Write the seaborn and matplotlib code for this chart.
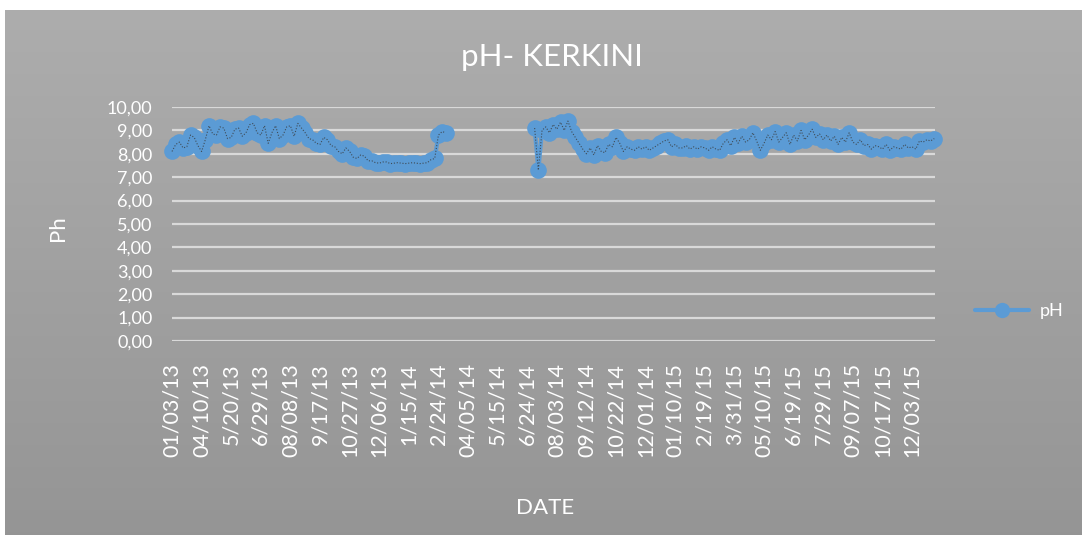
import matplotlib
matplotlib.use('Agg')
import matplotlib.pyplot as plt
from matplotlib.lines import Line2D
import seaborn as sns
import pandas as pd
import numpy as np

# pH readings, sampled every 5 days (day 0 = first category on the axis)
seg1_days = np.arange(0, 375, 5)
seg1_ph = [8.10, 8.40, 8.50, 8.25, 8.30, 8.80, 8.70, 8.35, 8.10, 8.60,
           9.20, 8.85, 8.80, 9.15, 9.10, 8.65, 8.70, 9.05, 9.10, 8.75,
           8.90, 9.25, 9.30, 8.90, 8.80, 9.20, 8.45, 8.90, 9.20, 8.65,
           8.80, 9.15, 9.20, 8.75, 9.30, 9.10, 8.90, 8.65, 8.60, 8.45,
           8.40, 8.70, 8.60, 8.35, 8.30, 8.10, 8.00, 8.25, 8.10, 7.85,
           7.80, 7.95, 7.90, 7.70, 7.70, 7.62, 7.60, 7.65, 7.65, 7.58,
           7.60, 7.62, 7.60, 7.58, 7.60, 7.62, 7.60, 7.58, 7.60, 7.62,
           7.75, 7.80, 8.80, 8.95, 8.90]

seg2_days = np.arange(490, 1035, 5)
seg2_ph = [9.10, 7.30, 9.00, 9.15, 8.90, 9.25, 9.05, 9.35, 9.00, 9.40,
           8.95, 8.70, 8.45, 8.20, 8.00, 8.25, 7.95, 8.35, 8.10, 8.05,
           8.40, 8.30, 8.70, 8.45, 8.10, 8.30, 8.20, 8.15, 8.30, 8.20,
           8.30, 8.15, 8.25, 8.35, 8.45, 8.55, 8.60, 8.30, 8.40, 8.25,
           8.25, 8.35, 8.20, 8.30, 8.20, 8.30, 8.25, 8.15, 8.30, 8.20,
           8.15, 8.45, 8.60, 8.35, 8.70, 8.45, 8.75, 8.50, 8.60, 8.90,
           8.55, 8.15, 8.45, 8.80, 8.60, 8.95, 8.50, 8.70, 8.90, 8.40,
           8.80, 8.55, 9.00, 8.60, 8.80, 9.05, 8.70, 8.85, 8.60, 8.80,
           8.55, 8.75, 8.40, 8.70, 8.50, 8.90, 8.50, 8.40, 8.60, 8.35,
           8.40, 8.20, 8.35, 8.30, 8.20, 8.40, 8.15, 8.30, 8.25, 8.20,
           8.40, 8.25, 8.30, 8.20, 8.55, 8.50, 8.60, 8.55, 8.65]

tick_labels = ['01/03/13', '04/10/13', '5/20/13', '6/29/13', '08/08/13', '9/17/13',
               '10/27/13', '12/06/13', '1/15/14', '2/24/14', '04/05/14', '5/15/14',
               '6/24/14', '08/03/14', '09/12/14', '10/22/14', '12/01/14', '01/10/15',
               '2/19/15', '3/31/15', '05/10/15', '6/19/15', '7/29/15', '09/07/15',
               '10/17/15', '12/03/15']
tick_step = 40

seg1 = pd.DataFrame({'day': seg1_days, 'ph': seg1_ph})
seg2 = pd.DataFrame({'day': seg2_days, 'ph': seg2_ph})

sns.set_style('white')
plt.rcParams['font.family'] = ['Lato', 'DejaVu Sans']

W, H = 1082, 535
fig = plt.figure(figsize=(W / 100, H / 100), dpi=100)
fig.patch.set_facecolor('white')

# gray gradient chart area
bg = fig.add_axes([5 / W, 0, 1 - 5 / W, 1 - 10 / H], zorder=0)
grad = np.linspace(0.678, 0.584, 256).reshape(-1, 1)
bg.imshow(np.dstack([grad] * 3), aspect='auto', extent=[0, 1, 0, 1])
bg.set_axis_off()

ax = fig.add_axes([172 / W, 1 - 341 / H, (935 - 172) / W, (341 - 107) / H], zorder=1)
ax.set_facecolor('none')

blue = '#5b9bd5'
for seg in (seg1, seg2):
    sns.lineplot(data=seg, x='day', y='ph', ax=ax, color=blue, linewidth=3,
                 marker='o', markersize=12, markeredgecolor=blue,
                 markeredgewidth=0, clip_on=False, zorder=3)
    ax.plot(seg['day'], seg['ph'], color='#383838', linewidth=0.8,
            linestyle=(0, (1, 1.6)), alpha=0.8, zorder=4, clip_on=False)

ax.set_ylim(0, 10)
ax.set_xlim(0, 1031)
ax.set_yticks(np.arange(0, 11, 1))
ax.set_yticklabels([f'{v:.2f}'.replace('.', ',') for v in range(11)])
ax.set_xticks(np.arange(len(tick_labels)) * tick_step)
ax.set_xticklabels(tick_labels, rotation=90)
ax.tick_params(axis='both', colors='white', length=0)
ax.tick_params(axis='y', pad=14, labelsize=13)
ax.tick_params(axis='x', pad=16, labelsize=15.5)
ax.grid(axis='y', color='#d9d9d9', linewidth=1.6)
ax.grid(axis='x', visible=False)
for s in ax.spines.values():
    s.set_visible(False)

ax.set_xlabel('')
ax.set_ylabel('')
fig.text(545 / W, 1 - 508 / H, 'DATE', color='white', fontsize=16, ha='center', va='center')
fig.text(58 / W, 1 - 228 / H, 'Ph', color='white', fontsize=16, ha='center', va='center',
         rotation=90)
fig.text(552 / W, 1 - 57 / H, 'pH- KERKINI', color='white', fontsize=22.5, ha='center',
         va='center')

handle = Line2D([], [], color=blue, linewidth=3, marker='o', markersize=11,
                markeredgewidth=0)
fig.legend([handle], ['pH'], loc='center left', bbox_to_anchor=(975 / W, 1 - 311 / H),
           frameon=False, fontsize=13, labelcolor='white', handlelength=3.0,
           handletextpad=0.6, borderpad=0, borderaxespad=0)

fig.savefig('out.png', dpi=100)
